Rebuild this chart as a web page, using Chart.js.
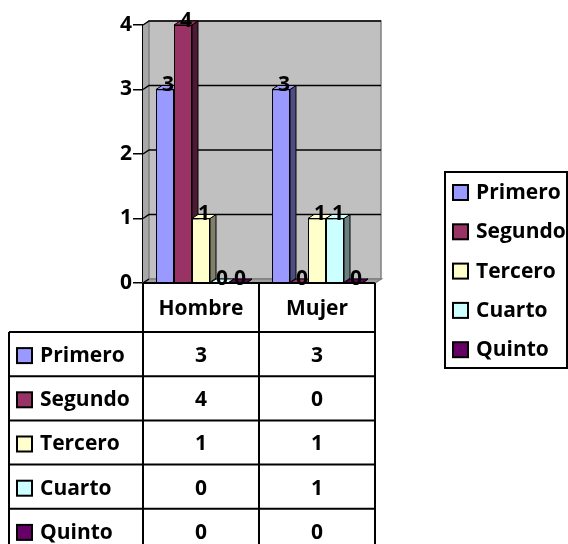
<!DOCTYPE html>
<html>
<head>
<meta charset="utf-8">
<script src="https://cdn.jsdelivr.net/npm/chart.js@4"></script>
<style>
  body { margin: 0; background: #fff; }
  canvas { display: block; }
</style>
</head>
<body>
<canvas id="myChart" width="568" height="544"></canvas>
<script>
var categories = ['Hombre', 'Mujer'];
var seriesNames = ['Primero', 'Segundo', 'Tercero', 'Cuarto', 'Quinto'];
var primero = [3, 3];
var segundo = [4, 0];
var tercero = [1, 1];
var cuarto = [0, 1];
var quinto = [0, 0];
var yTicks = [0, 1, 2, 3, 4];

var colors = ['#9999FF', '#993366', '#FFFFCC', '#CCFFFF', '#660066'];
var sideColors = ['#4D4D80', '#4D1A33', '#80806A', '#6A8080', '#330033'];
var font = 'bold 21px "Open Sans", sans-serif';
var dx = 6, dy = 4;

var ctx = document.getElementById('myChart').getContext('2d');

// wall, floor, gridlines, 3d faces, labels, data table, legend
var excelLook = {
    id: 'excelLook',
    beforeDatasetsDraw: function(chart) {
        var c = chart.ctx, a = chart.chartArea, ys = chart.scales.y;
        var L = a.left, R = a.right, T = a.top, B = a.bottom;
        c.save();
        c.fillStyle = '#A8A8A8';
        c.beginPath();
        c.moveTo(L, T); c.lineTo(L + dx, T - dy); c.lineTo(L + dx, B - dy); c.lineTo(L, B);
        c.closePath(); c.fill();
        c.fillStyle = '#C0C0C0';
        c.fillRect(L + dx, T - dy, R - L, B - T);
        c.strokeStyle = '#808080';
        c.lineWidth = 1.5;
        c.strokeRect(L + dx, T - dy, R - L, B - T);
        // floor
        c.fillStyle = '#A0A0A0';
        c.beginPath();
        c.moveTo(L, B); c.lineTo(L + dx, B - dy); c.lineTo(R + dx, B - dy); c.lineTo(R, B);
        c.closePath(); c.fill(); c.stroke();
        // gridlines
        c.strokeStyle = '#000';
        c.lineWidth = 1.5;
        yTicks.forEach(function(v) {
            var yy = ys.getPixelForValue(v);
            c.beginPath();
            c.moveTo(L, yy); c.lineTo(L + dx, yy - dy);
            if (v > 0) c.lineTo(R + dx, yy - dy);
            c.stroke();
        });

        // side and top faces go under the fronts that chart.js draws next
        c.strokeStyle = '#000';
        c.lineWidth = 1;
        chart.data.datasets.forEach(function(ds, i) {
            chart.getDatasetMeta(i).data.forEach(function(el) {
                var p = el.getProps(['x', 'y', 'base', 'width'], true);
                var l = p.x - p.width / 2, r = p.x + p.width / 2;
                c.fillStyle = sideColors[i];
                c.beginPath();
                c.moveTo(r, p.y); c.lineTo(r + dx, p.y - dy); c.lineTo(r + dx, p.base - dy); c.lineTo(r, p.base);
                c.closePath(); c.fill(); c.stroke();
                c.fillStyle = colors[i];
                c.beginPath();
                c.moveTo(l, p.y); c.lineTo(l + dx, p.y - dy); c.lineTo(r + dx, p.y - dy); c.lineTo(r, p.y);
                c.closePath(); c.fill(); c.stroke();
            });
        });
        c.restore();
    },
    afterDatasetsDraw: function(chart) {
        var c = chart.ctx;
        c.save();
        c.font = font;
        c.fillStyle = '#000';
        c.textAlign = 'center';
        c.textBaseline = 'middle';
        chart.data.datasets.forEach(function(ds, i) {
            chart.getDatasetMeta(i).data.forEach(function(el, j) {
                c.fillText(String(ds.data[j]), el.x + 3, el.y - 4);
            });
        });
        c.restore();
    },
    afterDraw: function(chart) {
        var c = chart.ctx, a = chart.chartArea, xs = chart.scales.x;
        var L = a.left, R = a.right, B = a.bottom;
        var tableLeft = 9, headBottom = 332, rowH = 44.2;
        var half = (xs.getPixelForValue(1) - xs.getPixelForValue(0)) / 2;
        c.save();
        c.strokeStyle = '#000';
        c.lineWidth = 2;
        c.beginPath();
        c.moveTo(L, B); c.lineTo(R, B);
        categories.forEach(function(cat, j) {
            var cx = xs.getPixelForValue(j);
            c.moveTo(cx - half, B); c.lineTo(cx - half, 544);
            c.moveTo(cx + half, B); c.lineTo(cx + half, 544);
        });
        c.moveTo(tableLeft, headBottom); c.lineTo(tableLeft, 544);
        for (var k = 0; k < seriesNames.length; k++) {
            var yy = headBottom + k * rowH;
            c.moveTo(tableLeft, yy); c.lineTo(R, yy);
        }
        c.stroke();

        c.font = font;
        c.fillStyle = '#000';
        c.textAlign = 'center';
        c.textBaseline = 'middle';
        categories.forEach(function(cat, j) {
            c.fillText(cat, xs.getPixelForValue(j), 309);
        });
        chart.data.datasets.forEach(function(ds, i) {
            var cy = headBottom + i * rowH + rowH / 2 + 2;
            c.fillStyle = ds.backgroundColor;
            c.fillRect(17, cy - 8, 15, 15);
            c.strokeStyle = '#000';
            c.lineWidth = 2;
            c.strokeRect(17, cy - 8, 15, 15);
            c.fillStyle = '#000';
            c.textAlign = 'left';
            c.fillText(ds.label, 40, cy);
            c.textAlign = 'center';
            ds.data.forEach(function(v, j) {
                c.fillText(String(v), xs.getPixelForValue(j), cy);
            });
        });

        // legend
        var bx = 445, by = 172, bw = 122, bh = 196;
        c.lineWidth = 2;
        c.strokeRect(bx, by, bw, bh);
        chart.data.datasets.forEach(function(ds, i) {
            var cy = 193 + i * 39.3;
            c.fillStyle = ds.backgroundColor;
            c.fillRect(453, cy - 8, 15, 15);
            c.strokeRect(453, cy - 8, 15, 15);
            c.fillStyle = '#000';
            c.textAlign = 'left';
            c.fillText(ds.label, 476, cy);
        });
        c.restore();
    }
};

var seriesValues = [primero, segundo, tercero, cuarto, quinto];
var datasets = seriesNames.map(function(name, i) {
    return {
        label: name,
        data: seriesValues[i],
        backgroundColor: colors[i],
        borderColor: '#000',
        borderWidth: 1
    };
});

var chart = new Chart(ctx, {
    type: 'bar',
    data: {
        labels: categories,
        datasets: datasets
    },
    options: {
        responsive: false,
        animation: false,
        devicePixelRatio: 1,
        categoryPercentage: 0.776,
        barPercentage: 1.0,
        layout: { padding: { left: 0, top: 25, right: 193, bottom: 261 } },
        plugins: {
            legend: { display: false },
            tooltip: { enabled: false }
        },
        scales: {
            x: { display: false },
            y: {
                min: 0,
                max: 4,
                afterFit: function(s) { s.width = 143; },
                ticks: {
                    stepSize: 1,
                    color: '#000',
                    padding: 1,
                    font: { family: 'Open Sans', size: 21, weight: 'bold' }
                },
                grid: {
                    drawOnChartArea: false,
                    color: '#000',
                    lineWidth: 1.5,
                    tickLength: 10
                },
                border: { color: '#000', width: 1.5 }
            }
        }
    },
    plugins: [excelLook]
});
</script>
</body>
</html>
